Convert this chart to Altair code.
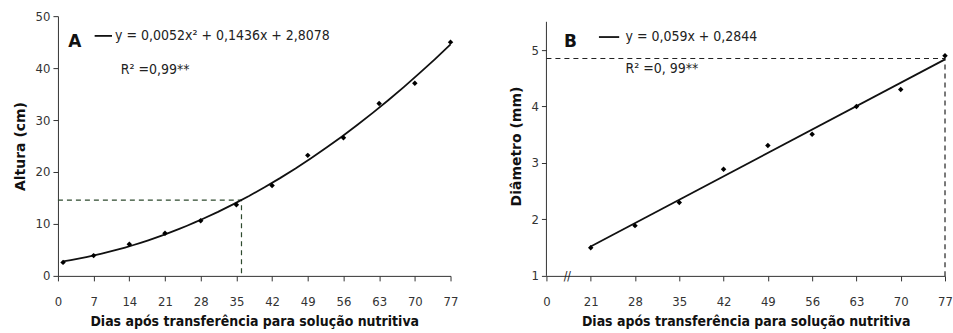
import altair as alt
import pandas as pd

# Panel A data
days_a = [1, 7, 14, 21, 28, 35, 42, 49, 56, 63, 70, 77]
altura = [2.6, 3.9, 6.1, 8.2, 10.6, 13.7, 17.4, 23.2, 26.6, 33.2, 37.1, 45.0]
ticks_a = [0, 7, 14, 21, 28, 35, 42, 49, 56, 63, 70, 77]
ref_a_x = [0, 36, 36]
ref_a_y = [14.6, 14.6, 0]

# Panel B data
days_b = [21, 28, 35, 42, 49, 56, 63, 70, 77]
diametro = [1.50, 1.89, 2.30, 2.89, 3.31, 3.51, 4.00, 4.30, 4.90]
ticks_b = [14, 21, 28, 35, 42, 49, 56, 63, 70, 77]
ref_b_x = [14, 77, 77]
ref_b_y = [4.85, 4.85, 1]
axis_b_y = [1, 5.5]

eq_a = "y = 0,0052x² + 0,1436x + 2,8078"
r2_a = "R² =0,99**"
eq_b = "y = 0,059x + 0,2844"
r2_b = "R² =0, 99**"

FONT = "Liberation Sans Narrow, DejaVu Sans Condensed, sans-serif"
XTITLE = "Dias após transferência para solução nutritiva"

df_a = pd.DataFrame({"day": days_a, "val": altura})
df_b = pd.DataFrame({"day": days_b, "val": diametro})
dref_a = pd.DataFrame({"day": ref_a_x, "val": ref_a_y, "o": [0, 1, 2]})
dref_b = pd.DataFrame({"day": ref_b_x, "val": ref_b_y, "o": [0, 1, 2]})

def xaxis(vals, expr=None):
    kw = dict(values=vals, title=XTITLE, titleFont="DejaVu Sans Condensed, DejaVu Sans", titleFontSize=14,
              titleFontWeight="bold", titleColor="#111", labelFont=FONT,
              labelFontSize=13, labelColor="#333", domainColor="#333",
              tickColor="#333", tickSize=5, labelPadding=15, titlePadding=6,
              grid=False, labelFlush=False, labelOverlap=False)
    if expr:
        kw["labelExpr"] = expr
    return alt.Axis(**kw)

def yaxis(title, vals, domain=True):
    return alt.Axis(values=vals, title=title, titleFont="DejaVu Sans", titleFontSize=14,
                    titleFontWeight="bold", titleColor="#111", labelFont=FONT,
                    labelFontSize=13, labelColor="#333", domainColor="#333", domain=domain,
                    tickColor="#333", tickSize=5, labelPadding=3, titlePadding=8, grid=False,
                    labelOverlap=False)

# ---------- Panel A ----------
xa = alt.X("day:Q", scale=alt.Scale(domain=[0, 77], nice=False, zero=False), axis=xaxis(ticks_a))
ya = alt.Y("val:Q", scale=alt.Scale(domain=[0, 50], nice=False, zero=False),
           axis=yaxis("Altura (cm)", [0, 10, 20, 30, 40, 50]))

base_a = alt.Chart(df_a)
pts_a = base_a.mark_point(shape="diamond", filled=True, color="black", size=30, opacity=1).encode(x=xa, y=ya)
fit_a = base_a.transform_regression("day", "val", method="poly", order=2, extent=[1, 77]).mark_line(
    color="#111", strokeWidth=1.8).encode(x=xa, y=ya)
ref_a = alt.Chart(dref_a).mark_line(color="#2e4a2e", strokeDash=[5, 4], strokeWidth=1.2).encode(
    x=xa, y=ya, order="o:Q")

lab_a = alt.Chart(pd.DataFrame({"day": [3.3], "val": [45.0], "t": ["A"]})).mark_text(
    font="DejaVu Sans", fontWeight="bold", fontSize=17, color="#111").encode(x=xa, y=ya, text="t:N")
leg_a = alt.Chart(pd.DataFrame({"day": [7.2, 10.6], "val": [46.2, 46.2]})).mark_line(
    color="#111", strokeWidth=1.8).encode(x=xa, y=ya)
txt_a = alt.Chart(pd.DataFrame({"day": [11.2, 12.3], "val": [46.2, 39.6], "t": [eq_a, r2_a]})).mark_text(
    align="left", baseline="middle", font=FONT, fontSize=14, color="#222").encode(
    x=xa, y=ya, text="t:N")

panel_a = alt.layer(ref_a, fit_a, pts_a, lab_a, leg_a, txt_a).properties(width=393, height=260)

# ---------- Panel B ----------
xb = alt.X("day:Q", scale=alt.Scale(domain=[14, 77], nice=False, zero=False),
           axis=xaxis(ticks_b, "datum.value == 14 ? '0' : datum.label"))
yb = alt.Y("val:Q", scale=alt.Scale(domain=[1, 5.6], nice=False, zero=False),
           axis=yaxis("Diâmetro (mm)", [1, 2, 3, 4, 5], domain=False))

base_b = alt.Chart(df_b)
pts_b = base_b.mark_point(shape="diamond", filled=True, color="black", size=30, opacity=1).encode(x=xb, y=yb)
fit_b = base_b.transform_regression("day", "val", method="linear", extent=[21, 77]).mark_line(
    color="#111", strokeWidth=1.8).encode(x=xb, y=yb)
ref_b = alt.Chart(dref_b).mark_line(color="#222", strokeDash=[5, 4], strokeWidth=1.2).encode(
    x=xb, y=yb, order="o:Q")
yline_b = alt.Chart(pd.DataFrame({"day": [14], "val": [axis_b_y[0]], "val2": [axis_b_y[1]]})).mark_rule(
    color="#333", strokeWidth=1).encode(x=xb, y=yb, y2="val2:Q")

lab_b = alt.Chart(pd.DataFrame({"day": [17.8], "val": [5.15], "t": ["B"]})).mark_text(
    font="DejaVu Sans", fontWeight="bold", fontSize=17, color="#111").encode(x=xb, y=yb, text="t:N")
leg_b = alt.Chart(pd.DataFrame({"day": [22.3, 25.5], "val": [5.23, 5.23]})).mark_line(
    color="#111", strokeWidth=1.8).encode(x=xb, y=yb)
txt_b = alt.Chart(pd.DataFrame({"day": [26.5, 26.5], "val": [5.23, 4.67], "t": [eq_b, r2_b]})).mark_text(
    align="left", baseline="middle", font=FONT, fontSize=14, color="#222").encode(
    x=xb, y=yb, text="t:N")
brk_b = alt.Chart(pd.DataFrame({"day": [17.3], "val": [1.0], "t": ["//"]})).mark_text(
    font=FONT, fontSize=12, color="#222", baseline="middle").encode(x=xb, y=yb, text="t:N")

panel_b = alt.layer(yline_b, ref_b, fit_b, pts_b, lab_b, leg_b, txt_b, brk_b).properties(
    width=399, height=260)

chart = alt.hconcat(panel_a, panel_b, spacing=50).properties(
    padding={"left": 13, "top": 10, "right": 0, "bottom": 0}, background="white"
).configure_view(stroke=None)

chart.save("out.html", embed_options={"renderer": "svg", "actions": False})
